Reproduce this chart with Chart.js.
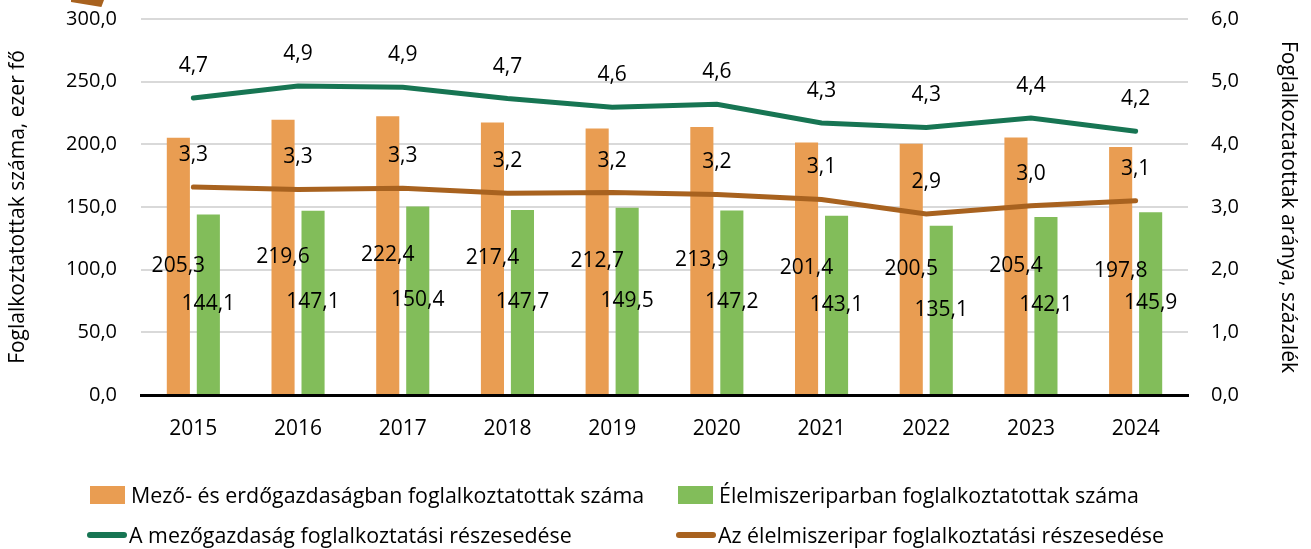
<!DOCTYPE html>
<html>
<head>
<meta charset="utf-8">
<script src="https://cdn.jsdelivr.net/npm/chart.js@4/dist/chart.umd.min.js"></script>
<style>
    html, body { margin: 0; padding: 0; background: #fff; }
    #wrap { position: relative; width: 1311px; height: 549px; font-family: 'Open Sans', sans-serif; }
    #chart { position: absolute; left: 0; top: 0; }
    .lg { position: absolute; font-size: 21.4px; color: #000; line-height: 24px; white-space: nowrap; }
    .box { position: absolute; width: 35px; height: 18px; }
    .ln { position: absolute; height: 6px; border-radius: 3px; }
    #corner { position: absolute; left: 71px; top: 0; width: 33px; height: 7px; background: #A8621F;
              clip-path: polygon(0 0, 100% 0, 92% 100%, 0 30%); }
</style>
</head>
<body>
<div id="wrap">
    <canvas id="chart" width="1311" height="549"></canvas>
    <div id="corner"></div>
    <div id="legend"></div>
</div>
<script>
const years = ['2015', '2016', '2017', '2018', '2019', '2020', '2021', '2022', '2023', '2024'];
const mezoFo = [205.3, 219.6, 222.4, 217.4, 212.7, 213.9, 201.4, 200.5, 205.4, 197.8];
const elelmFo = [144.1, 147.1, 150.4, 147.7, 149.5, 147.2, 143.1, 135.1, 142.1, 145.9];
const mezoArany = [4.74, 4.93, 4.91, 4.73, 4.59, 4.64, 4.34, 4.27, 4.42, 4.21];
const elelmArany = [3.32, 3.28, 3.30, 3.22, 3.23, 3.20, 3.12, 2.89, 3.02, 3.10];
const seriesNames = [
    'Mező- és erdőgazdaságban foglalkoztatottak száma',
    'Élelmiszeriparban foglalkoztatottak száma',
    'A mezőgazdaság foglalkoztatási részesedése',
    'Az élelmiszeripar foglalkoztatási részesedése'
];
const colors = ['#E99D52', '#82BD5A', '#177553', '#A8621F'];

const fmt = v => v.toFixed(1).replace('.', ',');
const FONT = "'Open Sans', sans-serif";

// value labels: bars in the middle, lines above the points
const valueLabels = {
    id: 'valueLabels',
    afterDatasetsDraw(chart) {
        const c = chart.ctx;
        c.save();
        c.font = '21px ' + FONT;
        c.fillStyle = '#000';
        c.textAlign = 'center';
        c.textBaseline = 'middle';
        chart.data.datasets.forEach((ds, i) => {
            const meta = chart.getDatasetMeta(i);
            meta.data.forEach((el, j) => {
                const txt = fmt(ds.data[j]);
                if (ds.type === 'bar') {
                    c.fillText(txt, el.x, (el.y + el.base) / 2);
                } else {
                    c.fillText(txt, el.x, el.y - 32);
                }
            });
        });
        c.restore();
    }
};

// fixed axis sizes, no extra padding from the tick labels
const fixWidth = w => s => { s.width = w; s.paddingTop = 0; s.paddingBottom = 0; };

const ctx = document.getElementById('chart').getContext('2d');
const chart = new Chart(ctx, {
    data: {
        labels: years,
        datasets: [
            {
                type: 'line',
                label: seriesNames[2],
                data: mezoArany,
                yAxisID: 'y1',
                borderColor: colors[2],
                borderWidth: 5,
                borderCapStyle: 'round',
                pointRadius: 0,
                tension: 0,
                order: 0
            },
            {
                type: 'line',
                label: seriesNames[3],
                data: elelmArany,
                yAxisID: 'y1',
                borderColor: colors[3],
                borderWidth: 5,
                borderCapStyle: 'round',
                pointRadius: 0,
                tension: 0,
                order: 0
            },
            {
                type: 'bar',
                label: seriesNames[0],
                data: mezoFo,
                yAxisID: 'y',
                backgroundColor: colors[0],
                categoryPercentage: 0.573,
                barPercentage: 0.77,
                order: 1
            },
            {
                type: 'bar',
                label: seriesNames[1],
                data: elelmFo,
                yAxisID: 'y',
                backgroundColor: colors[1],
                categoryPercentage: 0.573,
                barPercentage: 0.77,
                order: 1
            }
        ]
    },
    options: {
        responsive: false,
        animation: false,
        layout: {
            padding: { top: 19, left: 0, right: 0, bottom: 0 }
        },
        plugins: {
            legend: { display: false },
            tooltip: { enabled: false }
        },
        scales: {
            x: {
                afterFit: s => { s.height = 154; s.paddingLeft = 0; s.paddingRight = 0; },
                grid: { display: false, drawTicks: false },
                border: { color: '#000', width: 3 },
                ticks: {
                    color: '#000',
                    padding: 21,
                    font: { size: 21, family: FONT }
                }
            },
            y: {
                position: 'left',
                min: 0,
                max: 300,
                afterFit: fixWidth(141),
                ticks: {
                    stepSize: 50,
                    color: '#000',
                    padding: 24,
                    font: { size: 20, family: FONT },
                    callback: v => fmt(v)
                },
                grid: { color: '#D9D9D9', lineWidth: 2, drawTicks: false },
                border: { display: false },
                title: {
                    display: true,
                    text: 'Foglalkoztatottak száma, ezer fő',
                    color: '#000',
                    font: { size: 21, family: FONT },
                    padding: { top: 5, bottom: 0 }
                }
            },
            y1: {
                position: 'right',
                min: 0,
                max: 6,
                afterFit: fixWidth(123),
                ticks: {
                    stepSize: 1,
                    color: '#000',
                    padding: 23,
                    font: { size: 20, family: FONT },
                    callback: v => fmt(v)
                },
                grid: { display: false, drawTicks: false },
                border: { display: false },
                title: {
                    display: true,
                    text: 'Foglalkoztatottak aránya, százalék',
                    color: '#000',
                    font: { size: 21, family: FONT },
                    padding: { top: 10, bottom: 0 }
                }
            }
        }
    },
    plugins: [valueLabels]
});

// legend in two columns, two rows
const legendItems = [
    { name: seriesNames[0], color: colors[0], kind: 'box', x: 90, y: 495 },
    { name: seriesNames[1], color: colors[1], kind: 'box', x: 678, y: 495 },
    { name: seriesNames[2], color: colors[2], kind: 'line', x: 87, y: 535 },
    { name: seriesNames[3], color: colors[3], kind: 'line', x: 676, y: 535 }
];
const lg = document.getElementById('legend');
legendItems.forEach(it => {
    const mark = document.createElement('div');
    if (it.kind === 'box') {
        mark.className = 'box';
        mark.style.left = it.x + 'px';
        mark.style.top = (it.y - 9) + 'px';
    } else {
        mark.className = 'ln';
        mark.style.left = it.x + 'px';
        mark.style.width = '40px';
        mark.style.top = (it.y - 3) + 'px';
    }
    mark.style.background = it.color;
    lg.appendChild(mark);
    const t = document.createElement('div');
    t.className = 'lg';
    t.textContent = it.name;
    t.style.left = (it.kind === 'box' ? it.x + 41 : it.x + 42) + 'px';
    t.style.top = (it.y - 12) + 'px';
    lg.appendChild(t);
});
</script>
</body>
</html>
